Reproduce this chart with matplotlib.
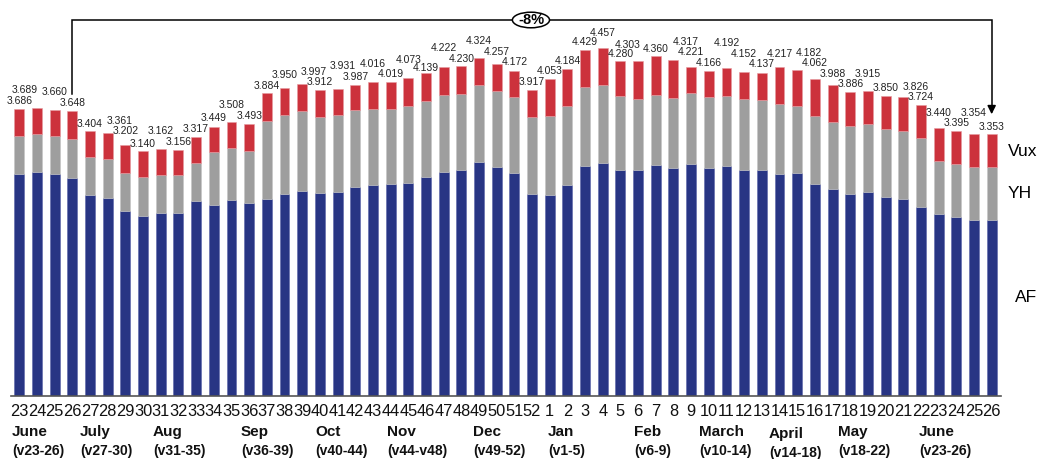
import matplotlib
matplotlib.use('Agg')
import matplotlib.pyplot as plt
import matplotlib.transforms as mtransforms
from matplotlib.patches import Ellipse

plt.rcParams['font.family'] = ['Liberation Sans', 'DejaVu Sans']

# ---------------- data ----------------
weeks = list(range(23, 53)) + list(range(1, 27))

af = [2.84, 2.87, 2.84, 2.79, 2.57, 2.53, 2.37, 2.31, 2.34, 2.34,
      2.50, 2.45, 2.51, 2.47, 2.52, 2.59, 2.63, 2.60, 2.61, 2.68,
      2.70, 2.71, 2.73, 2.80, 2.87, 2.89, 3.00, 2.93, 2.85, 2.59,
      2.57, 2.70, 2.95, 2.98, 2.90, 2.90, 2.96, 2.92, 2.97, 2.92,
      2.94, 2.90, 2.89, 2.84, 2.85, 2.72, 2.65, 2.59, 2.61, 2.55,
      2.52, 2.42, 2.33, 2.29, 2.25, 2.25]

yh = [0.49, 0.49, 0.49, 0.50, 0.49, 0.50, 0.49, 0.49, 0.49, 0.49,
      0.49, 0.67, 0.67, 0.67, 1.01, 1.01, 1.02, 0.98, 0.99, 0.98,
      0.98, 0.97, 0.98, 0.98, 0.99, 0.98, 0.98, 0.98, 0.98, 0.99,
      1.02, 1.02, 1.01, 1.01, 0.94, 0.90, 0.90, 0.90, 0.91, 0.91,
      0.91, 0.90, 0.90, 0.90, 0.86, 0.87, 0.86, 0.87, 0.87, 0.87,
      0.88, 0.88, 0.68, 0.68, 0.68, 0.68]

vux = [0.35, 0.33, 0.33, 0.36, 0.34, 0.34, 0.35, 0.34, 0.33, 0.32,
       0.33, 0.33, 0.33, 0.35, 0.35, 0.35, 0.35, 0.34, 0.33, 0.33,
       0.34, 0.34, 0.37, 0.36, 0.36, 0.36, 0.35, 0.35, 0.34, 0.34,
       0.47, 0.47, 0.47, 0.47, 0.45, 0.50, 0.50, 0.49, 0.34, 0.33,
       0.35, 0.35, 0.35, 0.48, 0.47, 0.47, 0.47, 0.43, 0.43, 0.43,
       0.43, 0.43, 0.43, 0.43, 0.43, 0.43]

totals = ['3.686', '3.689', '3.660', '3.648', '3.404', '3.361', '3.202', '3.140',
          '3.162', '3.156', '3.317', '3.449', '3.508', '3.493', '3.884', '3.950',
          '3.997', '3.912', '3.931', '3.987', '4.016', '4.019', '4.073', '4.139',
          '4.222', '4.230', '4.324', '4.257', '4.172', '3.917', '4.053', '4.184',
          '4.429', '4.457', '4.280', '4.303', '4.360', '4.317', '4.221', '4.166',
          '4.192', '4.152', '4.137', '4.217', '4.182', '4.062', '3.988', '3.886',
          '3.915', '3.850', '3.826', '3.724', '3.440', '3.395', '3.354', '3.353']

months = ['June', 'July', 'Aug', 'Sep', 'Oct', 'Nov', 'Dec', 'Jan', 'Feb',
          'March', 'April', 'May', 'June']
month_ranges = ['(v23-26)', '(v27-30)', '(v31-35)', '(v36-39)', '(v40-44)',
                '(v44-v48)', '(v49-52)', '(v1-5)', '(v6-9)', '(v10-14)',
                '(v14-18)', '(v18-22)', '(v23-26)']
change_label = '-8%'
series_names = ['Vux', 'YH', 'AF']

# ---------------- layout (positions only) ----------------
label_dy_px = [8, 18, 18, 8, 7, 12, 14, 7, 18, 8, 8, 9, 17, 8, 7, 13, 12, 8, 23, 8,
               18, 8, 18, 5, 19, 7, 17, 12, 9, 8, 8, 8, 8, 15, 7, 16, 7, 18, 15, 8,
               25, 18, 9, 13, 17, 16, 11, 8, 17, 8, 10, 8, 15, 8, 21, 7]
label_dx_px = {1: -12, 5: 12, 16: 12, 18: 5, 35: -10, 37: 12, 44: 12, 50: 12}
month_pos = [-0.41, 3.43, 7.56, 12.54, 16.72, 20.8, 25.66, 29.9, 34.77,
             38.45, 42.4, 46.3, 50.9]

C_AF = '#283584'
C_YH = '#9e9e9e'
C_VUX = '#cc323c'

W, H = 1038, 459
fig = plt.figure(figsize=(W / 100, H / 100), dpi=100)
ax = fig.add_axes([10.5 / W, (H - 395.5) / H, 990 / W, 395.5 / H])

x = list(range(len(weeks)))
bw = 0.56
ax.bar(x, af, width=bw, color=C_AF, edgecolor='#5a64a8', linewidth=0.4)
ax.bar(x, yh, width=bw, bottom=af, color=C_YH, edgecolor='#c4c4c4', linewidth=0.4)
bot2 = [a + b for a, b in zip(af, yh)]
ax.bar(x, vux, width=bw, bottom=bot2, color=C_VUX, edgecolor='#e59aa0', linewidth=0.4)

tops = [a + b + c for a, b, c in zip(af, yh, vux)]
for i, (t, lab) in enumerate(zip(tops, totals)):
    dx = label_dx_px.get(i, 0) * 0.72
    dy = label_dy_px[i] * 0.72
    ax.annotate(lab, (i, t), xytext=(dx, dy), textcoords='offset points',
                ha='center', va='center', fontsize=7.5, color='#222222')

ax.set_xlim(-0.5, len(weeks) - 0.5)
ax.set_ylim(0, 395.5 / 77.9)
for s in ['top', 'right', 'left']:
    ax.spines[s].set_visible(False)
ax.spines['bottom'].set_color('#555555')
ax.spines['bottom'].set_linewidth(1.2)
ax.set_yticks([])
ax.set_xticks(x)
ax.set_xticklabels([str(w) for w in weeks], fontsize=11.8, color='#111111')
ax.tick_params(axis='x', length=0, pad=6)

trans = mtransforms.blended_transform_factory(ax.transData, ax.transAxes)
for k, (m, r) in enumerate(zip(months, month_ranges)):
    yoff = -0.005 if m == 'April' else 0.0
    ax.text(month_pos[k], -0.092 + yoff, m, transform=trans, ha='left', va='center',
            fontsize=11, fontweight='bold', color='#111111')
    ax.text(month_pos[k], -0.140 + yoff, r, transform=trans, ha='left', va='center',
            fontsize=10, fontweight='bold', color='#111111')

# bracket with change
ytop = (395.5 - 20) / 77.9
yl = (395.5 - 94.3) / 77.9
yr = (395.5 - 117) / 77.9
xl, xr = 3, len(weeks) - 1
ax.plot([xl, xl, xr, xr], [yl, ytop, ytop, yr + 0.12], color='black', lw=1.1,
        clip_on=False, solid_joinstyle='miter')
ax.annotate('', xy=(xr, yr), xytext=(xr, yr + 0.14),
            arrowprops=dict(arrowstyle='-|>,head_length=0.5,head_width=0.25',
                            color='black', lw=1.1), annotation_clip=False)
ell = Ellipse((28.94, ytop), width=2.1, height=0.2, facecolor='white',
              edgecolor='black', lw=1.1, clip_on=False, zorder=5)
ax.add_patch(ell)
ax.text(28.94, ytop, change_label, ha='center', va='center', fontsize=10.5,
        fontweight='bold', zorder=6)

# series labels on the right
fig.text(1008 / W, 1 - 151 / H, series_names[0], fontsize=12.5, ha='left', va='center')
fig.text(1008 / W, 1 - 193 / H, series_names[1], fontsize=12.5, ha='left', va='center')
fig.text(1015 / W, 1 - 298 / H, series_names[2], fontsize=12.5, ha='left', va='center')

fig.savefig('out.png', dpi=100)
